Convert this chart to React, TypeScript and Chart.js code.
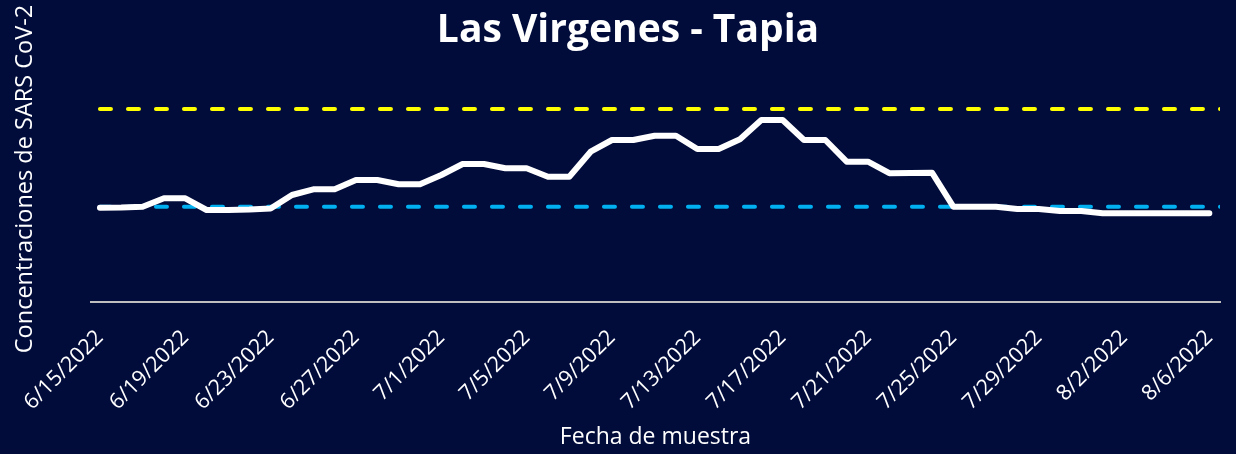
import { useEffect, useRef } from 'react';
import { Chart, registerables } from 'chart.js';

Chart.register(...registerables);

const chartTitle = 'Las Virgenes - Tapia';
const xAxisTitle = 'Fecha de muestra';
const yAxisTitle = 'Concentraciones de SARS CoV-2';

const sampleDates: string[] = [
  '6/15/2022', '6/16/2022', '6/17/2022', '6/18/2022', '6/19/2022', '6/20/2022', '6/21/2022', '6/22/2022',
  '6/23/2022', '6/24/2022', '6/25/2022', '6/26/2022', '6/27/2022', '6/28/2022', '6/29/2022', '6/30/2022',
  '7/1/2022', '7/2/2022', '7/3/2022', '7/4/2022', '7/5/2022', '7/6/2022', '7/7/2022', '7/8/2022',
  '7/9/2022', '7/10/2022', '7/11/2022', '7/12/2022', '7/13/2022', '7/14/2022', '7/15/2022', '7/16/2022',
  '7/17/2022', '7/18/2022', '7/19/2022', '7/20/2022', '7/21/2022', '7/22/2022', '7/23/2022', '7/24/2022',
  '7/25/2022', '7/26/2022', '7/27/2022', '7/28/2022', '7/29/2022', '7/30/2022', '7/31/2022', '8/1/2022',
  '8/2/2022', '8/3/2022', '8/4/2022', '8/5/2022', '8/6/2022',
];

const tickLabels: string[] = [
  '6/15/2022', '6/19/2022', '6/23/2022', '6/27/2022', '7/1/2022', '7/5/2022', '7/9/2022',
  '7/13/2022', '7/17/2022', '7/21/2022', '7/25/2022', '7/29/2022', '8/2/2022', '8/6/2022',
];

const concentrations: number[] = [
  94.3, 94.5, 95.3, 103.7, 103.7, 92, 92, 92.5, 93.5, 107,
  112.7, 112.7, 122, 122, 117.7, 117.7, 127, 138, 138, 133.7,
  133.7, 125.3, 125.3, 150.3, 162, 162, 166.3, 166.3, 153, 153,
  162.7, 182, 182, 162, 162, 140.3, 140.3, 128.8, 129, 129.3,
  95.3, 95.3, 95.3, 93, 93, 91, 91, 88.7, 88.7, 88.7,
  88.7, 88.7, 88.7,
];

const lowThreshold = 95.3;
const highThreshold = 193;

export default function App() {
  const ref = useRef<HTMLCanvasElement>(null);

  useEffect(() => {
    const family = "'Open Sans', sans-serif";
    const xMin = -0.42;
    const xMax = sampleDates.length - 1 + 0.5;

    const titlePlugin = {
      id: 'customTitle',
      afterDraw(chart: any) {
        const ctx = chart.ctx as CanvasRenderingContext2D;
        ctx.save();
        ctx.font = `bold 39px ${family}`;
        ctx.fillStyle = '#ffffff';
        ctx.textAlign = 'center';
        ctx.textBaseline = 'middle';
        ctx.fillText(chartTitle, 628, 31);
        ctx.restore();
      },
    };

    const chart = new Chart(ref.current as HTMLCanvasElement, {
      type: 'line',
      data: {
        datasets: [
          {
            data: concentrations.map((v, i) => ({ x: i, y: v })),
            borderColor: '#ffffff',
            borderWidth: 6,
            pointRadius: 0,
            borderCapStyle: 'round',
            borderJoinStyle: 'round',
            tension: 0,
          },
          {
            data: [{ x: 0, y: highThreshold }, { x: xMax, y: highThreshold }],
            borderColor: '#ffff00',
            borderWidth: 4,
            borderDash: [11, 17],
            borderCapStyle: 'round',
            pointRadius: 0,
          },
          {
            data: [{ x: 0, y: lowThreshold }, { x: xMax, y: lowThreshold }],
            borderColor: '#00b0f0',
            borderWidth: 4,
            borderDash: [11, 17],
            borderCapStyle: 'round',
            pointRadius: 0,
          },
        ],
      },
      options: {
        animation: false,
        responsive: false,
        maintainAspectRatio: false,
        layout: { padding: { top: 56, right: 16, left: 0, bottom: 0 } },
        plugins: {
          legend: { display: false },
          tooltip: { enabled: false },
          title: { display: false },
        },
        scales: {
          x: {
            type: 'linear',
            min: xMin,
            max: xMax,
            afterBuildTicks: (s: any) => {
              s.ticks = tickLabels.map((l) => ({ value: sampleDates.indexOf(l) }));
            },
            afterFit: (s: any) => {
              s.height = 152;
              s.paddingLeft = 0;
              s.paddingRight = 0;
            },
            grid: { display: false, drawTicks: false },
            border: { display: true, color: '#bfbfbf', width: 2 },
            ticks: {
              color: '#ffffff',
              font: { family, size: 21.5 },
              minRotation: 45,
              maxRotation: 45,
              autoSkip: false,
              padding: 23,
              callback: (value: any) => sampleDates[Math.round(Number(value))],
            },
            title: {
              display: true,
              text: xAxisTitle,
              color: '#ffffff',
              font: { family, size: 23 },
              padding: { top: 0, bottom: 3 },
            },
          },
          y: {
            type: 'linear',
            min: 0,
            max: 246,
            afterFit: (s: any) => {
              s.width = 91;
            },
            grid: { display: false, drawTicks: false },
            border: { display: false },
            ticks: { display: false },
            title: {
              display: true,
              text: yAxisTitle,
              color: '#ffffff',
              font: { family, size: 23.5 },
              padding: { top: 11, bottom: 0 },
            },
          },
        },
      },
      plugins: [titlePlugin],
    });
    return () => chart.destroy();
  }, []);

  return (
    <div
      style={{
        position: 'absolute',
        left: 0,
        top: 0,
        width: 1236,
        height: 454,
        background: '#020c3b',
      }}
    >
      <canvas ref={ref} width={1236} height={454} style={{ display: 'block' }} />
    </div>
  );
}
